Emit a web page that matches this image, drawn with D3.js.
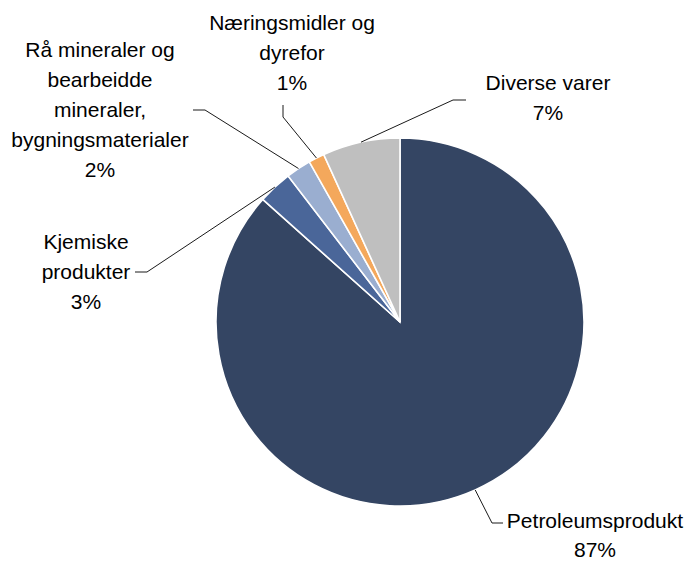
<!DOCTYPE html>
<html>
  <head>
    <meta charset="utf-8">
    <title>Pie chart</title>
    <script type="text/javascript" src="https://d3js.org/d3.v7.min.js"></script>
    <style>
      body { margin: 0; background: #fff; }
      text { font-family: "Liberation Sans", Arial, sans-serif; font-size: 21px; fill: #000; }
    </style>
  </head>

  <body>
    <script>

    // data, clockwise from 12 o'clock
    var categories = ["Petroleumsprodukt", "Kjemiske produkter",
                      "Rå mineraler og bearbeidde mineraler, bygningsmaterialer",
                      "Næringsmidler og dyrefor", "Diverse varer"];
    var values = [86.6, 3.0, 2.2, 1.4, 6.8];
    var pctLabels = ["87%", "3%", "2%", "1%", "7%"];
    var colors = ["#344563", "#4a6699", "#9aaed0", "#f4a85c", "#bfbfbf"];

    // label layout: wrapped lines, text anchor point, leader elbow and end
    var labelLines = [
      ["Petroleumsprodukt"],
      ["Kjemiske", "produkter"],
      ["Rå mineraler og", "bearbeidde", "mineraler,", "bygningsmaterialer"],
      ["Næringsmidler og", "dyrefor"],
      ["Diverse varer"]
    ];
    var labelPos = [[595, 528], [86, 249], [100, 57], [292, 30], [548, 90]];
    var leaderPts = [[[492, 523], [503, 523]], [[147, 272], [135, 272]],
                     [[205, 110], [193, 110]], [[283, 117], [283, 105]],
                     [[453, 100], [466, 100]]];

    var width = 684, height = 562;                 // svg area
    var cx = 400, cy = 322, radius = 184;
    var lineH = 29;

    var svg = d3.select("body")
                .append("svg")
                .attr("width", width)
                .attr("height", height);

    var pie = d3.pie().sort(null).value(function(d) { return d; });
    var slices = pie(values);

    var arc = d3.arc().innerRadius(0).outerRadius(radius);
    var edge = d3.arc().innerRadius(radius).outerRadius(radius);   // point on the rim for leaders

    var g = svg.append("g").attr("transform", "translate(" + cx + "," + cy + ")");

    g.selectAll("path.slice")
     .data(slices)
     .enter()
       .append("path")
       .attr("class", "slice")
       .attr("d", arc)
       .attr("fill", function(d, i) { return colors[i]; })
       .attr("stroke", "#fff")
       .attr("stroke-width", 1.6);

    // leader lines
    svg.selectAll("polyline.leader")
       .data(slices)
       .enter()
         .append("polyline")
         .attr("class", "leader")
         .attr("fill", "none")
         .attr("stroke", "#1a1a1a")
         .attr("stroke-width", 1)
         .attr("points", function(d, i) {
           var p = edge.centroid(d);
           var pts = [[p[0] + cx, p[1] + cy]].concat(leaderPts[i]);
           return pts.map(function(q) { return q.join(","); }).join(" ");
         });

    // labels
    var labels = svg.selectAll("text.lbl")
                    .data(slices)
                    .enter()
                      .append("text")
                      .attr("class", "lbl")
                      .attr("text-anchor", "middle")
                      .attr("x", function(d, i) { return labelPos[i][0]; })
                      .attr("y", function(d, i) { return labelPos[i][1]; });

    labels.each(function(d, i) {
      var t = d3.select(this);
      var lines = labelLines[i].concat([pctLabels[i]]);
      lines.forEach(function(s, k) {
        t.append("tspan")
         .attr("x", labelPos[i][0])
         .attr("dy", k === 0 ? 0 : (i === 0 ? lineH : 30))
         .text(s);
      });
    });

  </script>
  </body>
</html>
